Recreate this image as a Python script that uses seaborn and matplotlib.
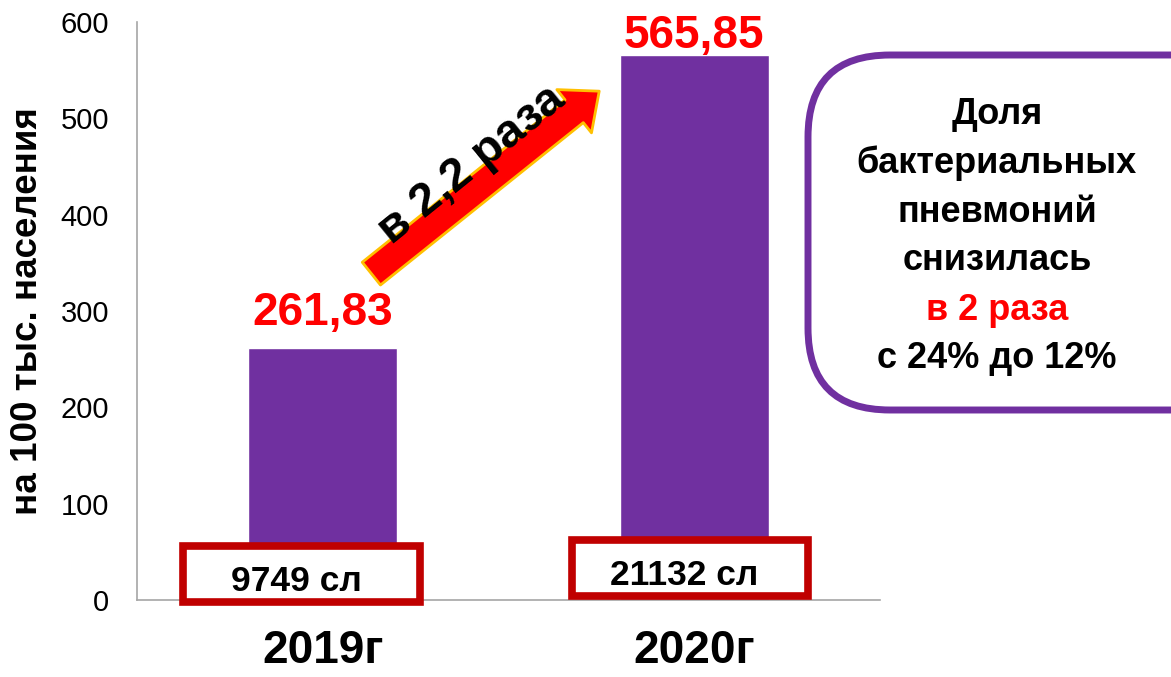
import matplotlib
matplotlib.use("Agg")
import matplotlib.pyplot as plt
from matplotlib.patches import FancyBboxPatch, Rectangle
import pandas as pd
import seaborn as sns

# data
years = ["2019г", "2020г"]
rates = [261.83, 565.85]
cases = ["9749 сл", "21132 сл"]
growth_label = "в 2,2 раза"
note_lines = ["Доля", "бактериальных", "пневмоний", "снизилась", "в 2 раза", "с 24% до 12%"]
note_colors = ["black", "black", "black", "black", "#FF0000", "black"]

purple = "#7030A0"

sns.set_theme(style="white")
plt.rcParams["font.family"] = ["Liberation Sans", "DejaVu Sans"]

df = pd.DataFrame({"year": years, "rate": rates})

fig = plt.figure(figsize=(11.71, 6.77), dpi=100)
ax = fig.add_axes([0.117, 0.1137, 0.6345, 0.8538])

sns.barplot(data=df, x="year", y="rate", color=purple, saturation=1,
            width=0.4, ax=ax)

ax.set_ylim(0, 600)
ax.set_xlim(-0.5, 1.5)
ax.set_yticks(range(0, 601, 100))
ax.tick_params(axis="y", labelsize=21, length=0, pad=20, labelcolor="black")
ax.tick_params(axis="x", labelsize=33, length=0, pad=21, labelcolor="black")
for lab in ax.get_xticklabels():
    lab.set_fontweight("bold")
ax.set_xlabel("")
ax.set_ylabel("на 100 тыс. населения", fontsize=26.5, fontweight="bold", color="black")
ax.yaxis.set_label_coords(-0.124, 0.50)
sns.despine(ax=ax, top=True, right=True)
for side in ["left", "bottom"]:
    ax.spines[side].set_color("#A6A6A6")
    ax.spines[side].set_linewidth(1.2)

# value labels over the bars
label_gap = [13, -3]
for i, v in enumerate(rates):
    ax.text(i, v + label_gap[i], f"{v:.2f}".replace(".", ","), ha="center", va="bottom",
            fontsize=33, fontweight="bold", color="#FF0000")

# case count boxes at the bottom of each bar
box_shift = [-0.057, -0.012]
box_mid = [27, 33]
for i, c in enumerate(cases):
    x0 = i + box_shift[i] - 0.318
    ax.add_patch(Rectangle((x0, box_mid[i] - 29), 0.636, 58, fc="white",
                           ec="#C00000", lw=5.5, clip_on=False, zorder=4))
    ax.text(i + box_shift[i] - 0.015, box_mid[i] - 8, c, ha="center", va="center",
            fontsize=25.5, fontweight="bold", color="black", zorder=5, clip_on=False)

# growth arrow
ax.annotate("", xy=(0.75, 530), xytext=(0.125, 337),
            arrowprops=dict(arrowstyle="simple,head_length=1.1,head_width=1.9,tail_width=1.0",
                            mutation_scale=21, fc="#FF0000", ec="#FFC000", lw=2))
ax.text(0.40, 452, growth_label, rotation=39, rotation_mode="anchor",
        ha="center", va="center", fontsize=34, fontweight="bold", color="black")

# rounded note box on the right, running off the right edge
box = FancyBboxPatch((808 / 1171, (677 - 410) / 677), 0.4, (410 - 55) / 677,
                     boxstyle="round,pad=0,rounding_size=0.07",
                     transform=fig.transFigure, fc="white", ec=purple, lw=5,
                     mutation_aspect=1171 / 677)
fig.patches.append(box)
for k, (line, col) in enumerate(zip(note_lines, note_colors)):
    fig.text(997 / 1171, (677 - 114 - k * 49) / 677, line, ha="center", va="center",
             fontsize=26, fontweight="bold", color=col)

fig.savefig("out.png", dpi=100)
